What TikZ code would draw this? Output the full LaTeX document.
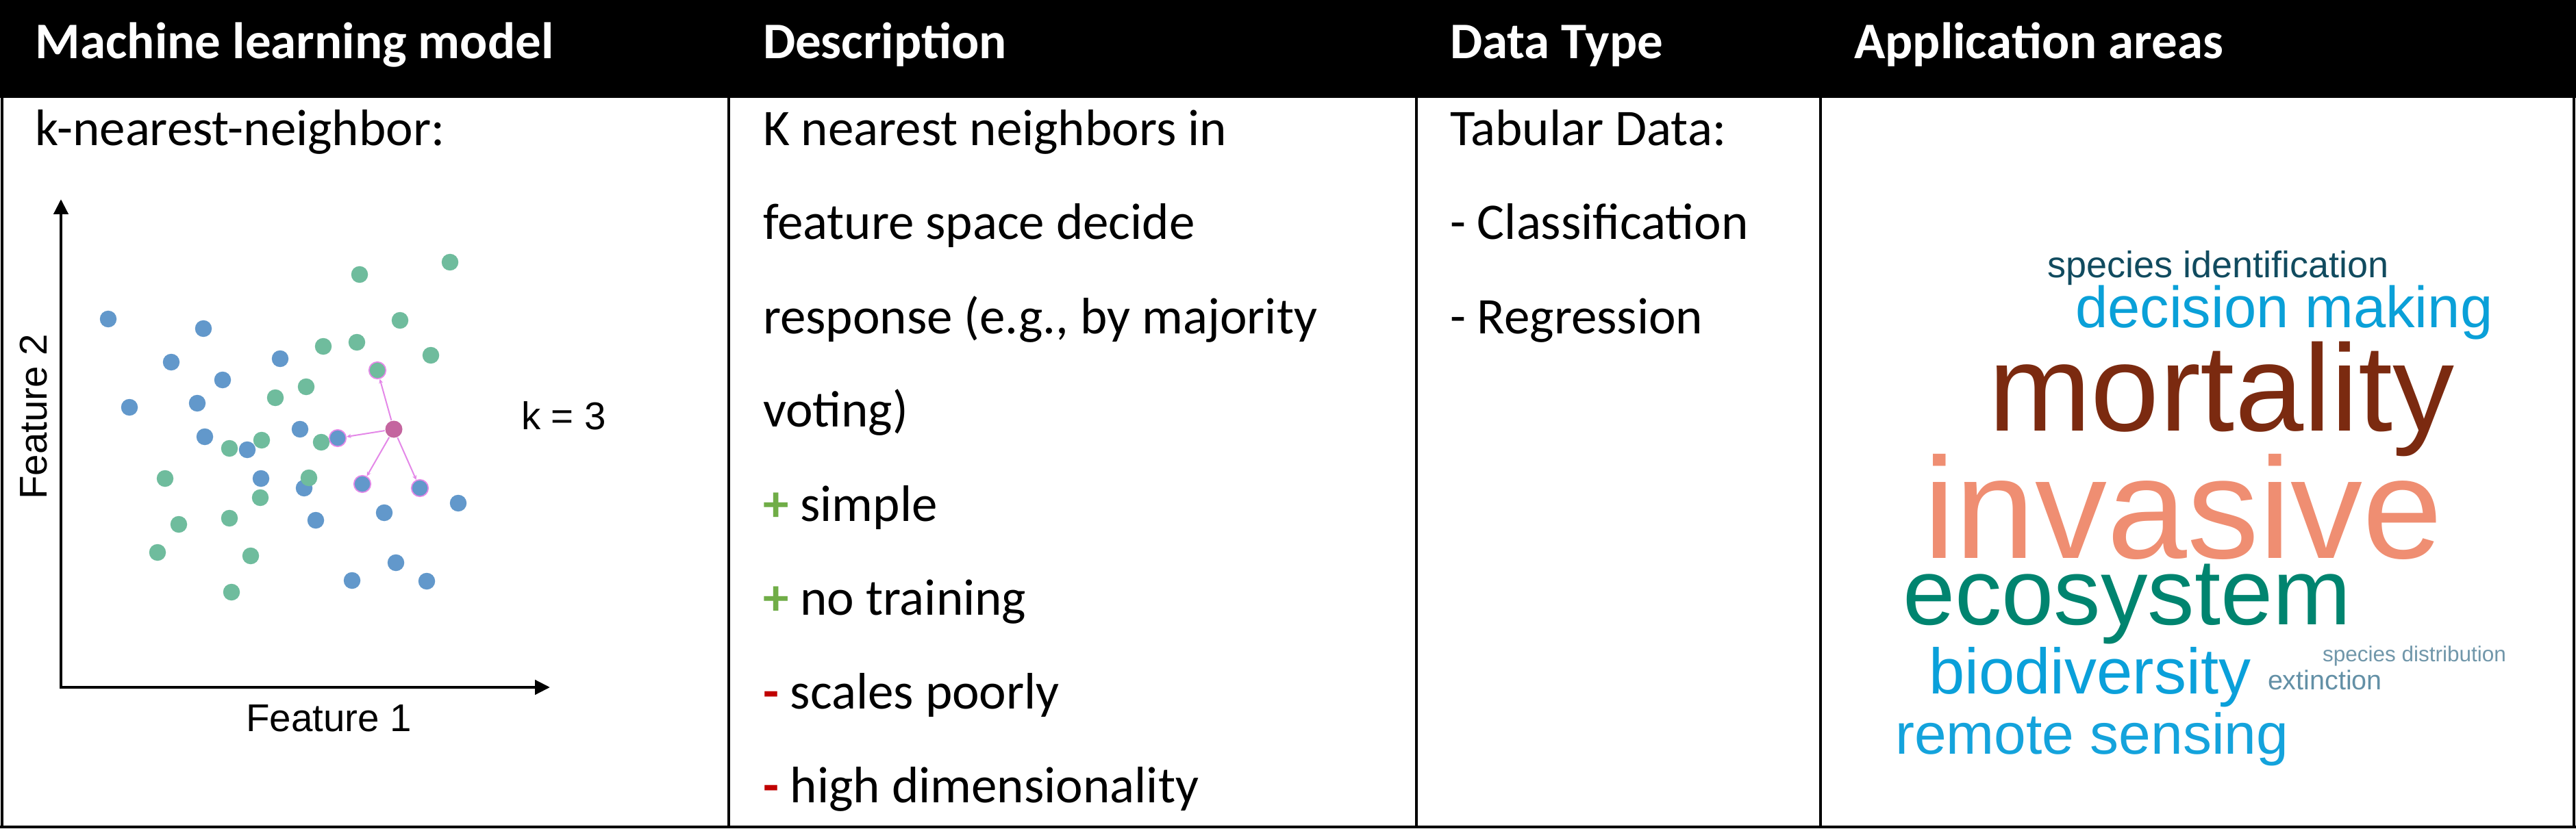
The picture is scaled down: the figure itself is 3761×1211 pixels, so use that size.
\documentclass[tikz,border=0pt]{standalone}
\usepackage{fontspec}
\setmainfont{Carlito}
\newfontfamily\arialf{Liberation Sans}
\usetikzlibrary{arrows.meta}
\definecolor{ptblue}{HTML}{6298CB}
\definecolor{ptgreen}{HTML}{6FBC9D}
\definecolor{ptpink}{HTML}{C4659F}
\definecolor{nnpink}{HTML}{E488E8}
\definecolor{plusgreen}{HTML}{70AD47}
\definecolor{minusred}{HTML}{C00000}
\definecolor{wcSpecies}{HTML}{114B5F}
\definecolor{wcDecision}{HTML}{0AA0D8}
\definecolor{wcMortality}{HTML}{7B2A10}
\definecolor{wcInvasive}{HTML}{EF8E72}
\definecolor{wcEco}{HTML}{00846F}
\definecolor{wcBio}{HTML}{0AA0DA}
\definecolor{wcRemote}{HTML}{14A3DC}
\definecolor{wcDist}{HTML}{7197AA}
\definecolor{wcExt}{HTML}{6390A6}
\tikzset{
  rule/.style={line width=0.8pt, black},
  headtxt/.style={anchor=base west, inner sep=0pt, text=white, font=\fontsize{15}{18}\selectfont\bfseries},
  bodytxt/.style={anchor=base west, inner sep=0pt, font=\fontsize{15}{18}\selectfont},
  plottxt/.style={inner sep=0pt, font=\arialf\fontsize{11.3}{13}\selectfont},
  dot/.style={circle, inner sep=0pt, minimum size=4.9pt},
  bdot/.style={dot, fill=ptblue},
  gdot/.style={dot, fill=ptgreen},
  nnring/.style={draw=nnpink, line width=0.35pt},
  nnline/.style={draw=nnpink, line width=0.4pt, -{Stealth[length=1.3pt,width=1.2pt]}},
  axis/.style={line width=0.9pt, line join=miter, {Triangle[length=4.4pt,width=4.2pt]}-{Triangle[length=4.4pt,width=4.2pt]}},
  wc/.style={anchor=base west, inner sep=0pt},
}
\begin{document}
\begin{tikzpicture}[x=0.2pt,y=-0.2pt]
\useasboundingbox (0,0) rectangle (3761,1211);
\fill[white] (0,0) rectangle (3761,1211);
% header band
\fill[black] (0,0) rectangle (3761,143);
% table rules
\draw[rule] (3,141) -- (3,1210);
\draw[rule] (1064,141) -- (1064,1210);
\draw[rule] (2068,141) -- (2068,1210);
\draw[rule] (2658,141) -- (2658,1210);
\draw[rule] (3758,141) -- (3758,1210);
\draw[rule] (0,1208) -- (3761,1208);
% header texts
\node[headtxt] (h1) at (51,86) {Machine learning model};
\node[headtxt] (h2) at (1113,86) {Description};
\node[headtxt] (h3) at (2116,86) {Data Type};
\node[headtxt] (h4) at (2706,86) {Application areas};
% column 1
\node[bodytxt] (m1) at (51,213) {k-nearest-neighbor:};
% column 2
\node[bodytxt] (d1) at (1113,213) {K nearest neighbors in};
\node[bodytxt] (d2) at (1113,350) {feature space decide};
\node[bodytxt] (d3) at (1113,487) {response (e.g., by majority};
\node[bodytxt] (d4) at (1113,624) {voting)};
\node[bodytxt] (d5) at (1113,761) {\textcolor{plusgreen}{\textbf{+}} simple};
\node[bodytxt] (d6) at (1113,898) {\textcolor{plusgreen}{\textbf{+}} no training};
\node[bodytxt] (d7) at (1113,1035) {\textcolor{minusred}{\textbf{-}} scales poorly};
\node[bodytxt] (d8) at (1113,1172) {\textcolor{minusred}{\textbf{-}} high dimensionality};
% column 3
\node[bodytxt] (t1) at (2116,213) {Tabular Data:};
\node[bodytxt] (t2) at (2116,350) {- Classification};
\node[bodytxt] (t3) at (2116,487) {- Regression};
% kNN plot
\coordinate (ytop) at (89,291);
\coordinate (orig) at (89,1004);
\coordinate (xend) at (803,1004);
\draw[axis] (ytop) -- (orig) -- (xend);
\node[plottxt, anchor=base] (f1) at (480,1068) {Feature 1};
\node[plottxt, anchor=base, rotate=90] (f2) at (69,609) {Feature 2};
\node[plottxt, anchor=base west] (k3) at (760,627) {k = 3};
% green points
\node[gdot] (g1) at (525,401) {};
\node[gdot] (g2) at (657,383) {};
\node[gdot] (g3) at (584,468) {};
\node[gdot] (g4) at (472,506) {};
\node[gdot] (g5) at (521,500) {};
\node[gdot] (g6) at (629,519) {};
\node[gdot, nnring] (g7) at (551,541) {};
\node[gdot] (g8) at (447,565) {};
\node[gdot] (g9) at (402,581) {};
\node[gdot] (g10) at (382,643) {};
\node[gdot] (g11) at (335,655) {};
\node[gdot] (g12) at (469,646) {};
\node[gdot] (g13) at (241,699) {};
\node[gdot] (g15) at (380,727) {};
\node[gdot] (g16) at (335,757) {};
\node[gdot] (g17) at (261,766) {};
\node[gdot] (g18) at (230,807) {};
\node[gdot] (g19) at (366,812) {};
\node[gdot] (g20) at (338,865) {};
% blue points
\node[bdot] (b1) at (158,466) {};
\node[bdot] (b2) at (297,480) {};
\node[bdot] (b3) at (250,529) {};
\node[bdot] (b4) at (409,524) {};
\node[bdot] (b5) at (325,555) {};
\node[bdot] (b6) at (189,595) {};
\node[bdot] (b7) at (288,589) {};
\node[bdot] (b8) at (299,638) {};
\node[bdot] (b9) at (361,657) {};
\node[bdot] (b10) at (438,627) {};
\node[bdot, nnring] (b11) at (493,640) {};
\node[bdot] (b12) at (381,699) {};
\node[bdot] (b13) at (444,713) {};
\node[bdot, nnring] (b14) at (529,707) {};
\node[bdot, nnring] (b15) at (613,713) {};
\node[bdot] (b16) at (669,735) {};
\node[bdot] (b17) at (561,749) {};
\node[bdot] (b18) at (461,760) {};
\node[bdot] (b19) at (578,822) {};
\node[bdot] (b20) at (514,848) {};
\node[bdot] (b21) at (623,849) {};
\node[gdot] (g14) at (451,698) {};
% query point and neighbour links
\node[dot, fill=ptpink, minimum size=5pt] (q) at (575,627) {};
\draw[nnline] (q) -- (g7);
\draw[nnline] (q) -- (b11);
\draw[nnline] (q) -- (b14);
\draw[nnline] (q) -- (b15);
% word cloud
\node[wc, text=wcSpecies, font=\arialf\fontsize{10.8}{12}\selectfont] (w1) at (2988,406) {species identification};
\node[wc, text=wcDecision, font=\arialf\fontsize{17}{19}\selectfont] (w2) at (3029,478) {decision making};
\node[wc, text=wcMortality, font=\arialf\fontsize{36}{40}\selectfont] (w3) at (2902,629) {mortality};
\node[wc, text=wcInvasive, font=\arialf\fontsize{42}{46}\selectfont] (w4) at (2807,815) {invasive};
\node[wc, text=wcEco, font=\arialf\fontsize{27.4}{30}\selectfont] (w5) at (2777,912) {ecosystem};
\node[wc, text=wcBio, font=\arialf\fontsize{18.8}{21}\selectfont] (w6) at (2815,1013) {biodiversity};
\node[wc, text=wcRemote, font=\arialf\fontsize{16.8}{19}\selectfont] (w7) at (2766,1101) {remote sensing};
\node[wc, text=wcDist, font=\arialf\fontsize{6.3}{7}\selectfont] (w8) at (3390,966) {species distribution};
\node[wc, text=wcExt, font=\arialf\fontsize{7.9}{9}\selectfont] (w9) at (3310,1007) {extinction};
\end{tikzpicture}
\end{document}
